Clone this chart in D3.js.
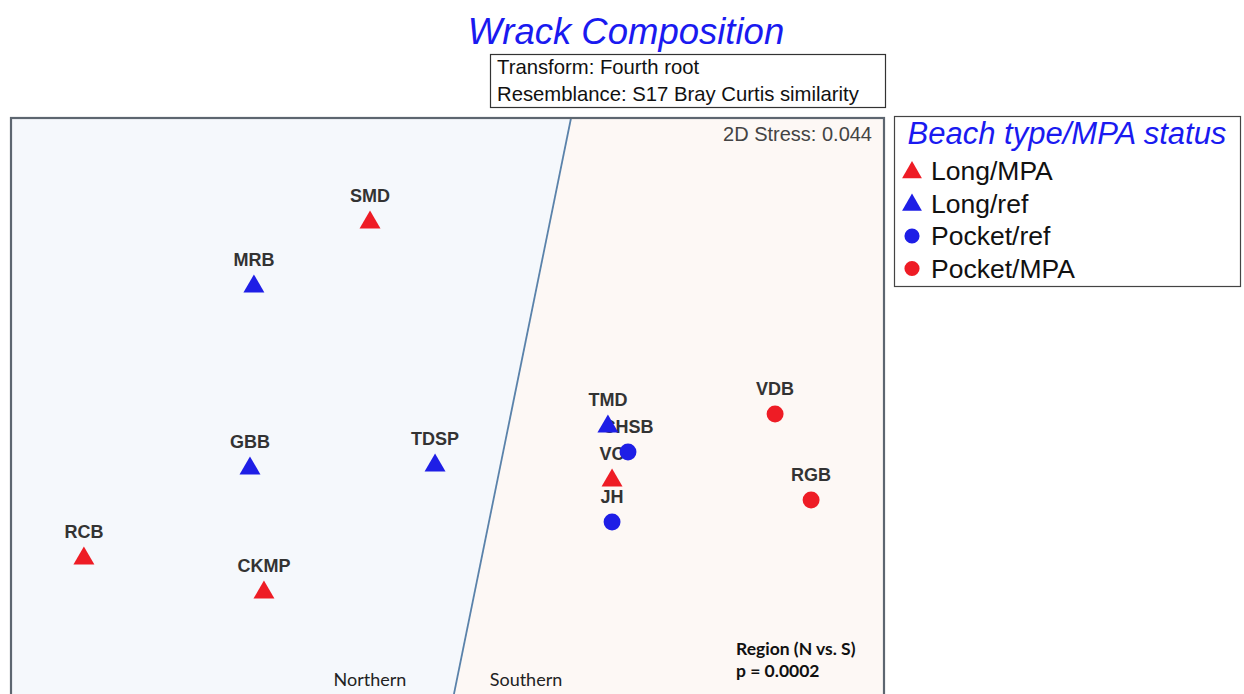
<!DOCTYPE html>
<html>
<head>
<meta charset="utf-8">
<script src="https://cdn.jsdelivr.net/npm/d3@7"></script>
<style>
  html, body { margin: 0; padding: 0; background: #ffffff; }
  svg { display: block; }
</style>
</head>
<body>
<div id="chart"></div>
<script>
// nMDS ordination of wrack composition (fourth-root transform, Bray-Curtis)
const sites   = ["SMD", "MRB", "GBB", "TDSP", "RCB", "CKMP", "TMD", "CHSB", "VC", "JH", "VDB", "RGB"];
const mdsX    = [-0.355, -0.887, -0.905, -0.057, -1.666, -0.841, 0.735, 0.827, 0.754, 0.754, 1.501, 1.666];
const mdsY    = [0.975, 0.655, -0.255, -0.240, -0.705, -0.875, -0.045, -0.180, -0.315, -0.530, 0.010, -0.420];
const groups  = ["Long/MPA", "Long/ref", "Long/ref", "Long/ref", "Long/MPA", "Long/MPA", "Long/ref", "Pocket/ref", "Long/MPA", "Pocket/ref", "Pocket/MPA", "Pocket/MPA"];

const legendGroups = ["Long/MPA", "Long/ref", "Pocket/ref", "Pocket/MPA"];
const groupShape   = ["triangle", "triangle", "circle", "circle"];
const groupColor   = ["#ee1c25", "#1e1ee6", "#1e1ee6", "#ee1c25"];

// Region boundary (Northern | Southern) in ordination units
const boundaryX = [0.566, 0.011];
const boundaryY = [1.49, -1.49];

const regionNames = ["Northern", "Southern"];
const stressText = "2D Stress: 0.044";
const testLines = ["Region (N vs. S)", "p = 0.0002"];
const infoLines = ["Transform: Fourth root", "Resemblance: S17 Bray Curtis similarity"];

const W = 1244, H = 694;
const svg = d3.select("#chart").append("svg").attr("width", W).attr("height", H);

const plot = { left: 11, top: 118, right: 884, bottom: 714 };
const x = d3.scaleLinear().domain([-2, 2]).range([plot.left, plot.right]);
const y = d3.scaleLinear().domain([-1.49, 1.49]).range([plot.bottom, plot.top]);

// Clip for the ordination frame
svg.append("clipPath").attr("id", "frameClip")
  .append("rect")
  .attr("x", plot.left).attr("y", plot.top)
  .attr("width", plot.right - plot.left).attr("height", plot.bottom - plot.top);

const regionLayer = svg.append("g").attr("clip-path", "url(#frameClip)");
const bx0 = x(boundaryX[0]), by0 = y(boundaryY[0]);
const bx1 = x(boundaryX[1]), by1 = y(boundaryY[1]);

// Northern region (left of boundary)
regionLayer.append("path")
  .attr("d", `M${plot.left},${plot.top}L${bx0},${by0}L${bx1},${by1}L${plot.left},${plot.bottom}Z`)
  .attr("fill", "#f5f8fc");
// Southern region (right of boundary)
regionLayer.append("path")
  .attr("d", `M${bx0},${by0}L${plot.right},${plot.top}L${plot.right},${plot.bottom}L${bx1},${by1}Z`)
  .attr("fill", "#fdf8f5");

regionLayer.append("line")
  .attr("x1", bx0).attr("y1", by0).attr("x2", bx1).attr("y2", by1)
  .attr("stroke", "#5a82aa").attr("stroke-width", 1.8);

// Frame
svg.append("rect")
  .attr("x", plot.left).attr("y", plot.top)
  .attr("width", plot.right - plot.left).attr("height", plot.bottom - plot.top)
  .attr("fill", "none").attr("stroke", "#5d6670").attr("stroke-width", 2.2);

// Title
svg.append("text")
  .attr("x", 626).attr("y", 44)
  .attr("text-anchor", "middle")
  .attr("font-family", "Liberation Sans, Arial, sans-serif")
  .attr("font-style", "italic")
  .attr("font-size", 36.5)
  .attr("fill", "#1a1af0")
  .text("Wrack Composition");

// Info box
svg.append("rect")
  .attr("x", 490.5).attr("y", 54.5).attr("width", 395).attr("height", 53)
  .attr("fill", "#ffffff").attr("stroke", "#333333").attr("stroke-width", 1.2);
svg.selectAll("text.info").data(infoLines).join("text")
  .attr("class", "info")
  .attr("x", 497).attr("y", (d, i) => 74 + i * 27)
  .attr("font-family", "Liberation Sans, Arial, sans-serif")
  .attr("font-size", 20.3)
  .attr("fill", "#111111")
  .text(d => d);

// Stress
svg.append("text")
  .attr("x", 872).attr("y", 141)
  .attr("text-anchor", "end")
  .attr("font-family", "Liberation Sans, Arial, sans-serif")
  .attr("font-size", 20)
  .attr("fill", "#444444")
  .text(stressText);

// Region names
svg.selectAll("text.region").data(regionNames).join("text")
  .attr("class", "region")
  .attr("x", (d, i) => i === 0 ? 370 : 526)
  .attr("y", 686)
  .attr("text-anchor", "middle")
  .attr("font-family", "Lato, Open Sans, sans-serif")
  .attr("font-size", 18)
  .attr("fill", "#222222")
  .text(d => d);

// ANOSIM result
svg.selectAll("text.test").data(testLines).join("text")
  .attr("class", "test")
  .attr("x", 736).attr("y", (d, i) => 655 + i * 22)
  .attr("font-family", "Lato, Open Sans, sans-serif")
  .attr("font-weight", "bold")
  .attr("font-size", 17.5)
  .attr("fill", "#111111")
  .text(d => d);

const points = sites.map((s, i) => ({ site: s, x: mdsX[i], y: mdsY[i], g: groups[i] }));
const gi = g => legendGroups.indexOf(g);
const triangle = d3.symbol().type(d3.symbolTriangle).size(190);
const circle = d3.symbol().type(d3.symbolCircle).size(225);
const symFor = g => groupShape[gi(g)] === "triangle" ? triangle() : circle();

const pts = svg.append("g").attr("clip-path", "url(#frameClip)");
// Site labels
pts.selectAll("text.site").data(points).join("text")
  .attr("class", "site")
  .attr("x", d => x(d.x))
  .attr("y", d => y(d.y) - 19)
  .attr("text-anchor", "middle")
  .attr("font-family", "Liberation Sans, Arial, sans-serif")
  .attr("font-weight", "bold")
  .attr("font-size", 18)
  .attr("fill", "#333333")
  .text(d => d.site);
// Markers
pts.selectAll("path.pt").data(points).join("path")
  .attr("class", "pt")
  .attr("transform", d => `translate(${x(d.x)},${y(d.y) + (groupShape[gi(d.g)] === "triangle" ? 1.5 : 0)})`)
  .attr("d", d => symFor(d.g))
  .attr("fill", d => groupColor[gi(d.g)]);

// Legend
const leg = svg.append("g");
leg.append("rect")
  .attr("x", 894.5).attr("y", 116.5).attr("width", 346).attr("height", 170)
  .attr("fill", "#ffffff").attr("stroke", "#444444").attr("stroke-width", 1.2);
leg.append("text")
  .attr("x", 1067).attr("y", 144)
  .attr("text-anchor", "middle")
  .attr("font-family", "Liberation Sans, Arial, sans-serif")
  .attr("font-style", "italic")
  .attr("font-size", 31)
  .attr("fill", "#1a1af0")
  .text("Beach type/MPA status");
const items = leg.selectAll("g.item").data(legendGroups).join("g")
  .attr("class", "item")
  .attr("transform", (d, i) => `translate(0,${171 + i * 32.5})`);
items.append("path")
  .attr("transform", (d, i) => `translate(912,${groupShape[i] === "triangle" ? 1.5 : 0})`)
  .attr("d", (d, i) => groupShape[i] === "triangle" ? d3.symbol().type(d3.symbolTriangle).size(170)() : d3.symbol().type(d3.symbolCircle).size(180)())
  .attr("fill", (d, i) => groupColor[i]);
items.append("text")
  .attr("x", 931).attr("y", 9)
  .attr("font-family", "Liberation Sans, Arial, sans-serif")
  .attr("font-size", 26.5)
  .attr("fill", "#111111")
  .text(d => d);
</script>
</body>
</html>
